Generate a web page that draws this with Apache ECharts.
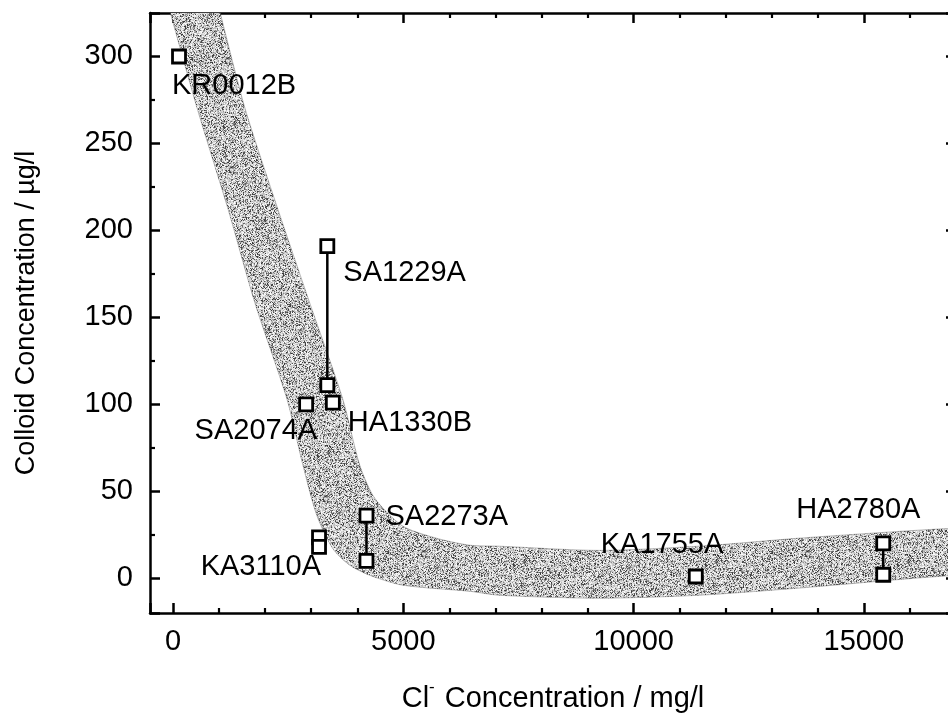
<!DOCTYPE html>
<html>
<head>
<meta charset="utf-8">
<script src="https://cdn.jsdelivr.net/npm/echarts@6/dist/echarts.min.js"></script>
<style>
  html, body { margin: 0; padding: 0; background: #ffffff; }
  #chart { width: 948px; height: 713px; }
</style>
</head>
<body>
<div id="chart"></div>
<script>
// Groundwater samples: chloride (mg/l) vs. colloid concentration (µg/l)
const sampleNames = ['KR0012B', 'SA1229A', 'HA1330B', 'SA2074A', 'SA2273A', 'KA3110A', 'KA1755A', 'HA2780A'];
const chloride    = [130, 3350, 3470, 2890, 4200, 3170, 11350, 15420];
const colloidHigh = [300, 191, 101, 100, 36, 23.5, 1, 20];
const colloidLow  = [null, 111, null, null, 10, 18, null, 2];

// Trend band: lower-left edge and upper-right edge
const bandLowerCl      = [-640, -58, 526, 1197, 1781, 2474, 2820, 3123, 3470, 3838, 4270, 4985, 6435, 7084, 9249, 11413, 13578, 16110, 17500, 19500];
const bandLowerColloid = [380, 325, 270, 212, 158, 103, 65, 36, 17, 7.5, 1.7, -4, -7.5, -9.8, -11.5, -9.8, -5.7, 0, 2.5, 5];
const bandUpperCl      = [485, 1024, 1565, 2279, 2972, 3686, 4054, 4379, 4985, 5721, 6435, 7084, 9249, 11413, 13578, 16110, 17500, 19500];
const bandUpperColloid = [380, 325, 270, 212, 158, 103, 65, 46, 30, 23, 19, 18.4, 16, 18.4, 23, 27.5, 29.5, 32];

// Axis tick labels
const xTickLabels = ['0', '5000', '10000', '15000'];
const yTickLabels = ['0', '50', '100', '150', '200', '250', '300'];

// Label placement (pixel offset from the sample's upper marker)
const labelPlacement = {
  KR0012B: { dx: -7,  dy: 30,  align: 'left'  },
  SA1229A: { dx: 16,  dy: 27,  align: 'left'  },
  HA1330B: { dx: 15,  dy: 20,  align: 'left'  },
  SA2074A: { dx: 11,  dy: 27,  align: 'right' },
  SA2273A: { dx: 19,  dy: 1,   align: 'left'  },
  KA3110A: { dx: 2,   dy: 30,  align: 'right' },
  KA1755A: { dx: -95, dy: -31, align: 'left'  },
  HA2780A: { dx: -87, dy: -33, align: 'left'  }
};

const FONT = 'Liberation Sans, Arial, Helvetica, sans-serif';

// Stippled grey texture for the trend band (deterministic LCG speckle)
function makeStipple() {
  const size = 192;
  const c = document.createElement('canvas');
  c.width = size; c.height = size;
  const ctx = c.getContext('2d');
  const img = ctx.createImageData(size, size);
  let s = 98765;
  function next() { s = (s * 1103515245 + 12345) & 0x7fffffff; return s / 0x7fffffff; }
  for (let i = 0; i < size * size; i++) {
    const h = next();
    const g = h < 0.3 ? 50 + (h / 0.3) * 110 : 180 + ((h - 0.3) / 0.7) * 75;
    img.data[i * 4] = g; img.data[i * 4 + 1] = g; img.data[i * 4 + 2] = g; img.data[i * 4 + 3] = 255;
  }
  ctx.putImageData(img, 0, 0);
  return c;
}
const stipple = makeStipple();

const chart = echarts.init(document.getElementById('chart'), null, { renderer: 'canvas' });

const axisLineStyle = { color: '#000', width: 2.5 };

function xAxisBase(position, showLabels) {
  return {
    type: 'value', position: position, gridIndex: 0,
    min: -500, max: 17000, minInterval: 5000, maxInterval: 5000,
    axisLine: { show: true, onZero: false, lineStyle: axisLineStyle },
    axisTick: { show: true, inside: true, length: 10, lineStyle: { color: '#000', width: 2.5 } },
    minorTick: { show: true, splitNumber: 5, length: 5, lineStyle: { color: '#000', width: 2.2 } },
    splitLine: { show: false },
    axisLabel: {
      show: showLabels, color: '#000', fontFamily: FONT, fontSize: 29, margin: 14,
      showMinLabel: false, showMaxLabel: false,
      formatter: v => xTickLabels.includes(String(v)) ? String(v) : ''
    }
  };
}
function yAxisBase(position, showLabels) {
  return {
    type: 'value', position: position, gridIndex: 0,
    min: -20, max: 325, minInterval: 50, maxInterval: 50,
    axisLine: { show: true, onZero: false, lineStyle: axisLineStyle },
    axisTick: { show: true, inside: true, length: 10, lineStyle: { color: '#000', width: 2.5 } },
    minorTick: { show: true, splitNumber: 2, length: 5, lineStyle: { color: '#000', width: 2.2 } },
    splitLine: { show: false },
    axisLabel: {
      show: showLabels, color: '#000', fontFamily: FONT, fontSize: 29, margin: 17,
      showMinLabel: false, showMaxLabel: false,
      formatter: v => yTickLabels.includes(String(v)) ? String(v) : ''
    }
  };
}

const xBottom = Object.assign(xAxisBase('bottom', true), {
  name: 'Cl{sup|-} Concentration / mg/l',
  nameLocation: 'middle', nameGap: 66,
  nameTextStyle: {
    color: '#000', fontFamily: FONT, fontSize: 29,
    rich: { sup: { fontFamily: FONT, fontSize: 17, color: '#000', padding: [0, 2, 22, 0] } }
  }
});
const xTop = xAxisBase('top', false);
const yLeft = Object.assign(yAxisBase('left', true), {
  name: 'Colloid Concentration / µg/l',
  nameLocation: 'middle', nameGap: 110,
  nameTextStyle: { color: '#000', fontFamily: FONT, fontSize: 27 }
});
const yRight = yAxisBase('right', false);

// Trend band polygon from both edges
const bandSeries = {
  type: 'custom', xAxisIndex: 0, yAxisIndex: 0, clip: true, z: 1,
  silent: true,
  data: [0],
  renderItem: function (params, api) {
    const pts = [];
    for (let i = 0; i < bandLowerCl.length; i++) pts.push(api.coord([bandLowerCl[i], bandLowerColloid[i]]));
    for (let i = bandUpperCl.length - 1; i >= 0; i--) pts.push(api.coord([bandUpperCl[i], bandUpperColloid[i]]));
    return {
      type: 'polygon',
      shape: { points: pts, smooth: 0.25 },
      style: { fill: { image: stipple, repeat: 'repeat' }, stroke: 'rgba(40,40,40,0.3)', lineWidth: 1 }
    };
  }
};

// One series per sample: marker(s) joined by a vertical range line
const sampleSeries = sampleNames.map((name, i) => {
  const pts = [[chloride[i], colloidHigh[i]]];
  if (colloidLow[i] !== null) pts.push([chloride[i], colloidLow[i]]);
  return {
    type: 'line', name: name, xAxisIndex: 0, yAxisIndex: 0, z: 3,
    data: pts,
    symbol: 'rect', symbolSize: 13, showAllSymbol: true,
    lineStyle: { color: '#000', width: 2.5 },
    itemStyle: { color: '#fff', borderColor: '#000', borderWidth: 2.8 },
    emphasis: { disabled: true },
    animation: false
  };
});

// Sample name labels
const labelSeries = {
  type: 'custom', xAxisIndex: 0, yAxisIndex: 0, z: 4, silent: true, clip: false,
  data: sampleNames.map((n, i) => [chloride[i], colloidHigh[i]]),
  renderItem: function (params, api) {
    const name = sampleNames[params.dataIndex];
    const p = api.coord([api.value(0), api.value(1)]);
    const lp = labelPlacement[name];
    return {
      type: 'text',
      x: p[0] + lp.dx, y: p[1] + lp.dy,
      style: {
        text: name, fill: '#000', font: '29px ' + FONT,
        align: lp.align, verticalAlign: 'middle'
      }
    };
  }
};

chart.setOption({
  animation: false,
  backgroundColor: '#ffffff',
  grid: { left: 150, top: 13, width: 806, height: 600, containLabel: false, outerBoundsMode: 'none' },
  xAxis: [xBottom, xTop],
  yAxis: [yLeft, yRight],
  series: [bandSeries].concat(sampleSeries, [labelSeries])
});
</script>
</body>
</html>
